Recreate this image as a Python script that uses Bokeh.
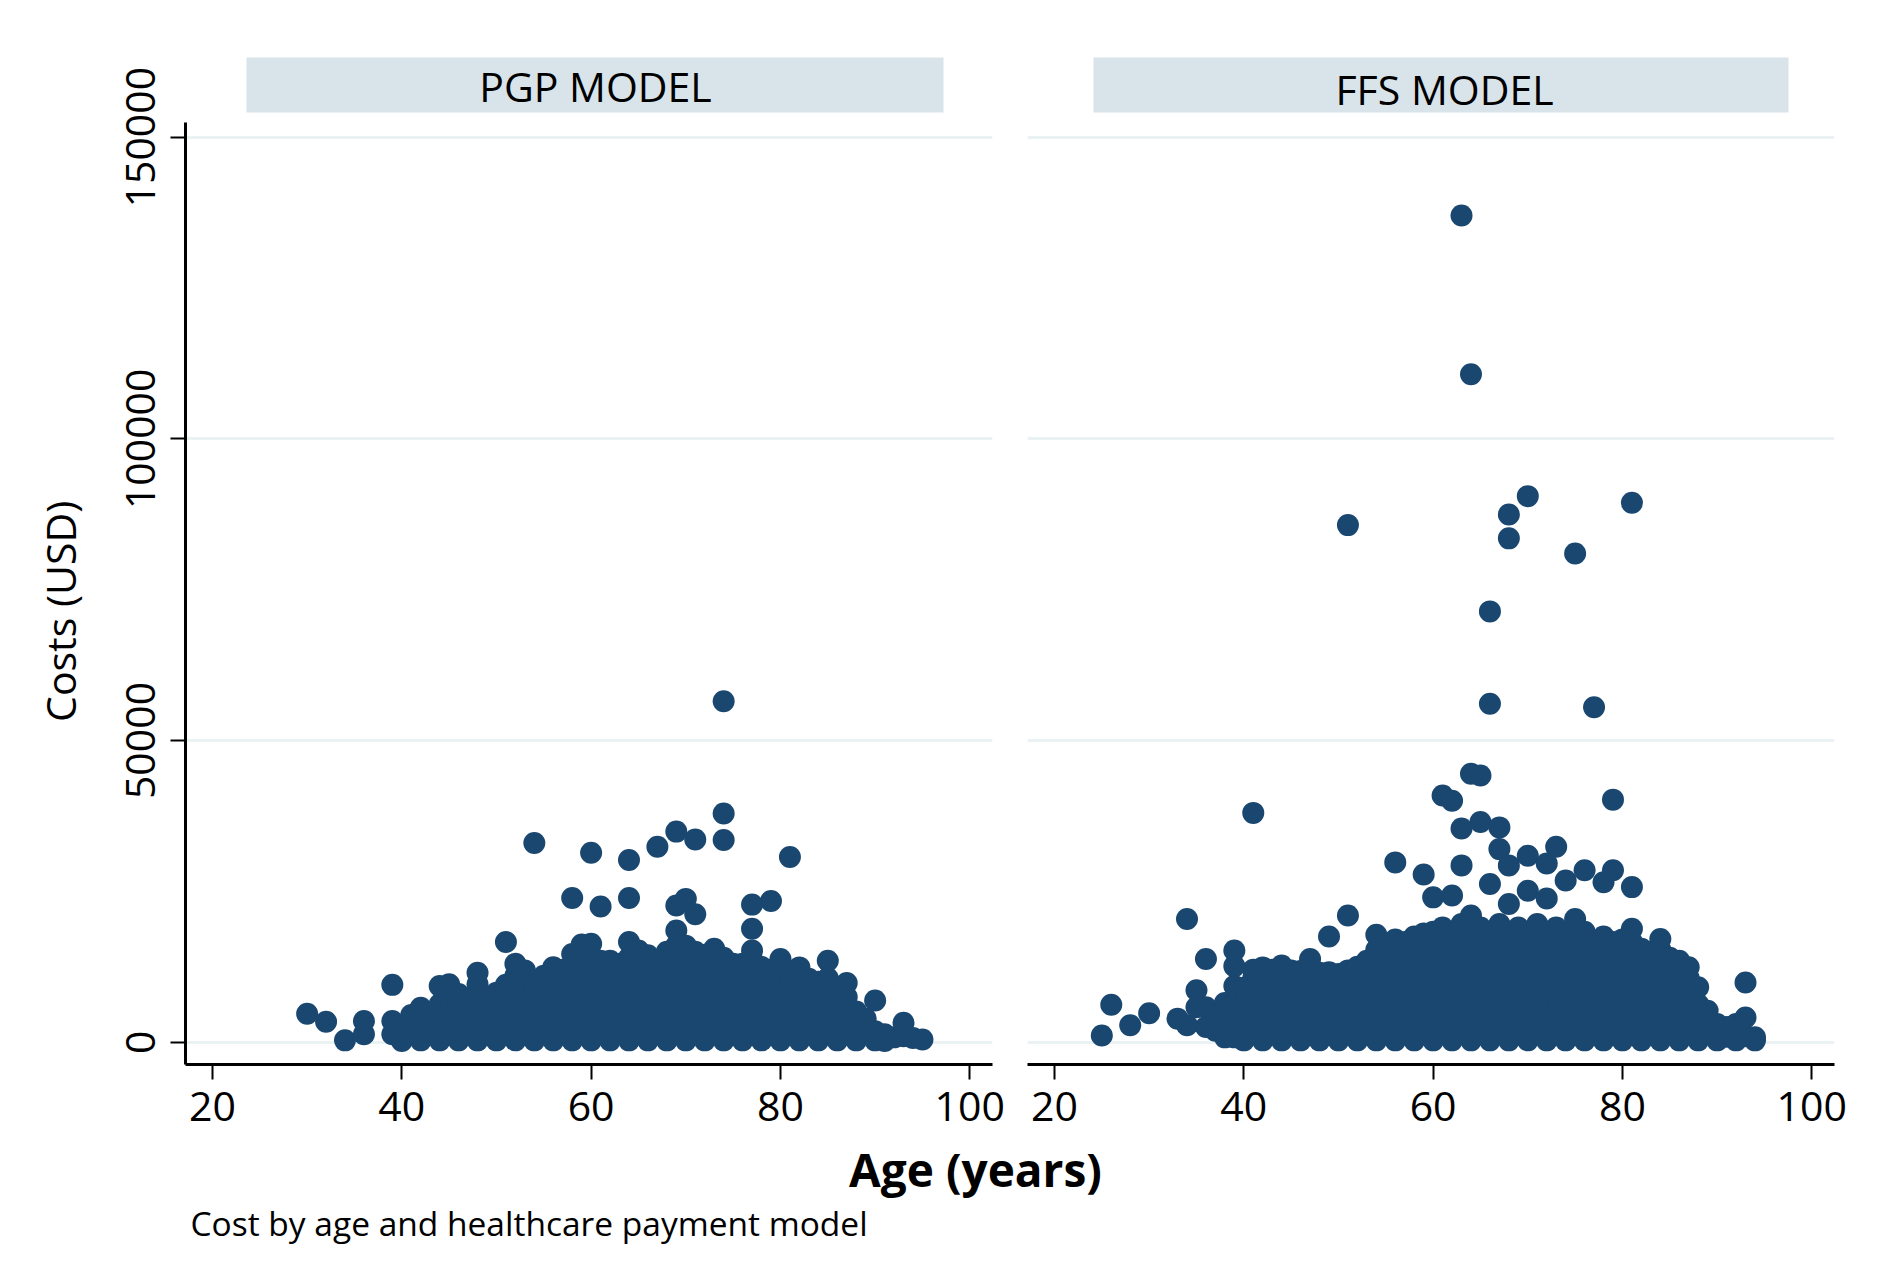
import math

from bokeh.plotting import figure
from bokeh.layouts import row, column
from bokeh.models import Range1d, FixedTicker, Label, NumeralTickFormatter
from bokeh.embed import file_html
from bokeh.resources import INLINE

# --------------------------------------------------------------
# DATA (age in years, cost in USD per patient)
# --------------------------------------------------------------

panel_titles = ["PGP MODEL", "FFS MODEL"]
x_ticks = [20, 40, 60, 80, 100]
y_ticks = [0, 50000, 100000, 150000]

pgp_ages = [30, 32, 34, 36, 39, 40, 41, 42, 43, 44, 45, 46, 47, 48, 49, 50,
            51, 52, 53, 54, 55, 56, 57, 58, 59, 60, 61, 62, 63, 64, 65, 66,
            67, 68, 69, 70, 71, 72, 73, 74, 75, 76, 77, 78, 79, 80, 81, 82,
            83, 84, 85, 86, 87, 88, 89, 90, 91, 92, 93, 94, 95]
pgp_costs = [
    [4700],                                                   # 30
    [3400],                                                   # 32
    [300],                                                    # 34
    [1300, 3500],                                             # 36
    [1300, 3500, 9500],                                       # 39
    [200, 2500],                                              # 40
    [1600, 4500],                                             # 41
    [300, 3300, 5700],                                        # 42
    [1600, 4800],                                             # 43
    [300, 3300, 6300, 9300],                                  # 44
    [1600, 4600, 7600, 9600],                                 # 45
    [300, 3300, 6300, 8000],                                  # 46
    [1600, 4600, 7200],                                       # 47
    [300, 3300, 6300, 9600, 11500],                           # 48
    [1600, 4600, 7400],                                       # 49
    [300, 3300, 6300, 8200],                                  # 50
    [1600, 4600, 7600, 9500, 16600],                          # 51
    [300, 3300, 6300, 9300, 11000, 13000],                    # 52
    [1600, 4600, 7600, 10600, 11900],                         # 53
    [300, 3300, 6300, 9300, 10000, 33000],                    # 54
    [1600, 4600, 7600, 10600, 11000],                         # 55
    [300, 3300, 6300, 9300, 12400],                           # 56
    [1600, 4600, 7600, 10600, 12000],                         # 57
    [300, 3300, 6300, 9300, 12300, 14600, 23900],             # 58
    [1600, 4600, 7600, 10600, 13500, 16200],                  # 59
    [300, 3300, 6300, 9300, 12300, 14000, 16300, 31400],      # 60
    [1600, 4600, 7600, 10600, 13500, 22500],                  # 61
    [300, 3300, 6300, 9300, 12300, 13500],                    # 62
    [1600, 4600, 7600, 10600, 13000],                         # 63
    [300, 3300, 6300, 9300, 12300, 14000, 16600, 23900, 30200],  # 64
    [1600, 4600, 7600, 10600, 13600, 15200],                  # 65
    [300, 3300, 6300, 9300, 12300, 14400],                    # 66
    [1600, 4600, 7600, 10600, 13600, 32400],                  # 67
    [300, 3300, 6300, 9300, 12300, 15000],                    # 68
    [1600, 4600, 7600, 10600, 13600, 16000, 18500, 22650, 34900],  # 69
    [300, 3300, 6300, 9300, 12300, 15300, 16000, 23750],      # 70
    [1600, 4600, 7600, 10600, 13600, 15000, 21200, 33600],    # 71
    [300, 3300, 6300, 9300, 12300, 14500],                    # 72
    [1600, 4600, 7600, 10600, 13600, 15500],                  # 73
    [300, 3300, 6300, 9300, 12300, 14000, 33500, 37900, 56500],  # 74
    [1600, 4600, 7600, 10600, 13000],                         # 75
    [300, 3300, 6300, 9300, 12300, 13000],                    # 76
    [1600, 4600, 7600, 10600, 13600, 15200, 18800, 22800],    # 77
    [300, 3300, 6300, 9300, 12300, 12500],                    # 78
    [1600, 4600, 7600, 10600, 12000, 23400],                  # 79
    [300, 3300, 6300, 9300, 12300, 13800],                    # 80
    [1600, 4600, 7600, 10600, 11000, 30700],                  # 81
    [300, 3300, 6300, 9300, 12400],                           # 82
    [1600, 4600, 7600, 10500],                                # 83
    [300, 3300, 6300, 9300, 10000],                           # 84
    [1600, 4600, 7600, 10600, 13500],                         # 85
    [300, 3300, 6300, 8500],                                  # 86
    [1600, 4600, 7500, 9800],                                 # 87
    [300, 2600, 5100],                                        # 88
    [1600, 3900],                                             # 89
    [300, 1800, 6900],                                        # 90
    [200, 1300],                                              # 91
    [800],                                                    # 92
    [1000, 3200],                                             # 93
    [700],                                                    # 94
    [440],                                                    # 95
]

ffs_ages = [25, 26, 28, 30, 33, 34, 35, 36, 37, 38, 39, 40, 41, 42, 43, 44,
            45, 46, 47, 48, 49, 50, 51, 52, 53, 54, 55, 56, 57, 58, 59, 60,
            61, 62, 63, 64, 65, 66, 67, 68, 69, 70, 71, 72, 73, 74, 75, 76,
            77, 78, 79, 80, 81, 82, 83, 84, 85, 86, 87, 88, 89, 90, 91, 92,
            93, 94]
ffs_costs = [
    [1100],                                                   # 25
    [6200],                                                   # 26
    [2800],                                                   # 28
    [4800],                                                   # 30
    [3900],                                                   # 33
    [2800, 20400],                                            # 34
    [5800, 8600],                                             # 35
    [2500, 5800, 13800],                                      # 36
    [1900, 5000],                                             # 37
    [800, 3500, 6500],                                        # 38
    [800, 3300, 6300, 9300, 12600, 15200],                    # 39
    [300, 3300, 6300, 9000],                                  # 40
    [1600, 4600, 7600, 10600, 12000, 38000],                  # 41
    [300, 3300, 6300, 9300, 12400],                           # 42
    [1600, 4600, 7600, 10600, 12000],                         # 43
    [300, 3300, 6300, 9300, 12700],                           # 44
    [1600, 4600, 7600, 10600, 11900],                         # 45
    [300, 3300, 6300, 9300, 11800],                           # 46
    [1600, 4600, 7600, 10600, 13800],                         # 47
    [300, 3300, 6300, 9300, 11500],                           # 48
    [1600, 4600, 7600, 10600, 11600, 17500],                  # 49
    [300, 3300, 6300, 9300, 11300],                           # 50
    [1600, 4600, 7600, 10600, 11900, 21000, 85700],           # 51
    [300, 3300, 6300, 9300, 12500],                           # 52
    [1600, 4600, 7600, 10600, 13500],                         # 53
    [300, 3300, 6300, 9300, 12300, 15300, 17800],             # 54
    [1600, 4600, 7600, 10600, 13600, 16000],                  # 55
    [300, 3300, 6300, 9300, 12300, 15300, 17000, 29800],      # 56
    [1600, 4600, 7600, 10600, 13600, 16600],                  # 57
    [300, 3300, 6300, 9300, 12300, 15300, 17500],             # 58
    [1600, 4600, 7600, 10600, 13600, 16600, 18000, 27800],    # 59
    [300, 3300, 6300, 9300, 12300, 15300, 18300, 24000],      # 60
    [1600, 4600, 7600, 10600, 13600, 16600, 19000, 40900],    # 61
    [300, 3300, 6300, 9300, 12300, 15300, 18300, 24300, 40000],   # 62
    [1600, 4600, 7600, 10600, 13600, 16600, 19600, 29300, 35400, 137000],  # 63
    [300, 3300, 6300, 9300, 12300, 15300, 18300, 21000, 44500, 110700],  # 64
    [1600, 4600, 7600, 10600, 13600, 16600, 19000, 36500, 44200],  # 65
    [300, 3300, 6300, 9300, 12300, 15300, 18300, 26200, 56100, 71400],  # 66
    [1600, 4600, 7600, 10600, 13600, 16600, 19600, 32000, 35600],  # 67
    [300, 3300, 6300, 9300, 12300, 15300, 18300, 22900, 29300, 83500, 87450],  # 68
    [1600, 4600, 7600, 10600, 13600, 16600, 19000],           # 69
    [300, 3300, 6300, 9300, 12300, 15300, 18300, 25100, 30900, 90500],  # 70
    [1600, 4600, 7600, 10600, 13600, 16600, 19600],           # 71
    [300, 3300, 6300, 9300, 12300, 15300, 18300, 23800, 29600],   # 72
    [1600, 4600, 7600, 10600, 13600, 16600, 19000, 32400],    # 73
    [300, 3300, 6300, 9300, 12300, 15300, 18300, 26800],      # 74
    [1600, 4600, 7600, 10600, 13600, 16600, 20400, 81000],    # 75
    [300, 3300, 6300, 9300, 12300, 15300, 18300, 28500],      # 76
    [1600, 4600, 7600, 10600, 13600, 16600, 55500],           # 77
    [300, 3300, 6300, 9300, 12300, 15300, 17500, 26500],      # 78
    [1600, 4600, 7600, 10600, 13600, 16600, 28500, 40200],    # 79
    [300, 3300, 6300, 9300, 12300, 15300, 17000],             # 80
    [1600, 4600, 7600, 10600, 13600, 16600, 18800, 25700, 89400],  # 81
    [300, 3300, 6300, 9300, 12300, 15500],                    # 82
    [1600, 4600, 7600, 10600, 13600, 15000],                  # 83
    [300, 3300, 6300, 9300, 12300, 15300, 17100],             # 84
    [1600, 4600, 7600, 10600, 13600, 14000],                  # 85
    [300, 3300, 6300, 9300, 12300, 13500],                    # 86
    [1600, 4600, 7600, 10600, 12400],                         # 87
    [300, 3300, 6300, 9100],                                  # 88
    [1600, 5200],                                             # 89
    [300, 3000],                                              # 90
    [900, 2500],                                              # 91
    [300, 3000],                                              # 92
    [1000, 4100, 9900],                                       # 93
    [300, 830],                                               # 94
]

# --------------------------------------------------------------
# STYLE / GEOMETRY (page pixels; the page has no margin)
# --------------------------------------------------------------

NAVY = "#1A476F"
STRIP = "#D8E4EA"
GRID = "#EAF2F3"
FONT = "Open Sans"

X0, X1 = 17.15, 102.4          # age range of each panel
Y0, Y1 = -3700, 163200         # cost range (top part holds the strip)
FRAME_W, FRAME_H = 807, 1007
FRAME_TOP = 57
PANEL_H = 1140
PX_X = FRAME_W / (X1 - X0)
PX_Y = FRAME_H / (Y1 - Y0)


def age_at(px, frame_left):
    return X0 + (px - frame_left) / PX_X


def cost_at(py):
    return Y1 - (py - FRAME_TOP) / PX_Y


def flatten(ages, costs):
    xs = [a for a, cs in zip(ages, costs) for _ in cs]
    ys = [c for cs in costs for c in cs]
    return xs, ys


def style_axis(ax, ticks):
    ax.ticker = FixedTicker(ticks=ticks)
    ax.axis_line_width = 3
    ax.axis_line_color = "black"
    ax.major_tick_line_width = 2
    ax.major_tick_out = 15
    ax.major_tick_in = 0
    ax.minor_tick_line_color = None
    ax.major_label_text_font = FONT
    ax.major_label_text_font_size = "41px"
    ax.major_label_text_color = "black"


def make_panel(ages, costs, name, frame_left, strip_px, title_px, width,
               border_left, border_right, show_y):
    xs, ys = flatten(ages, costs)
    p = figure(
        width=width, height=PANEL_H,
        x_range=Range1d(X0, X1), y_range=Range1d(Y0, Y1),
        title=None, toolbar_location=None, output_backend="svg",
        y_axis_location="left" if show_y else None,
        min_border_left=border_left, min_border_right=border_right,
        min_border_top=FRAME_TOP, min_border_bottom=PANEL_H - FRAME_TOP - FRAME_H,)
    p.outline_line_color = None
    p.background_fill_color = "white"
    p.border_fill_color = "white"

    p.xgrid.visible = False
    p.ygrid.ticker = FixedTicker(ticks=y_ticks)
    p.ygrid.grid_line_color = GRID
    p.ygrid.grid_line_width = 3

    # panel strip
    p.quad(left=[age_at(strip_px[0], frame_left)], right=[age_at(strip_px[1], frame_left)],
           bottom=[cost_at(112)], top=[Y1 + 2000],
           fill_color=STRIP, line_color=None)
    p.add_layout(Label(
        x=age_at(title_px[0], frame_left), y=cost_at(title_px[1]), text=name,
        text_align="center", text_baseline="alphabetic",
        text_font=FONT, text_font_size="41px", text_color="black"))

    p.scatter(xs, ys, size=22, fill_color=NAVY, line_color=None)

    style_axis(p.xaxis[0], x_ticks)
    p.xaxis.major_label_standoff = 12

    if show_y:
        ay = p.yaxis[0]
        style_axis(ay, y_ticks)
        ay.formatter = NumeralTickFormatter(format="0")
        ay.bounds = (Y0, 152450)
        ay.major_label_orientation = "vertical"
        ay.major_label_standoff = 15
    return p


# narrow band on the far left that carries the y title
p0 = figure(width=100, height=PANEL_H, x_range=Range1d(0, 100), y_range=Range1d(0, PANEL_H),
            title=None, toolbar_location=None, output_backend="svg",
            x_axis_location=None, y_axis_location=None, min_border=0)
p0.outline_line_color = None
p0.grid.visible = False
p0.add_layout(Label(x=59, y=PANEL_H - 627, text="Costs (USD)", angle=math.pi / 2,
                    text_align="center", text_baseline="middle", text_font=FONT,
                    text_font_size="41px", text_color="black"))

p1 = make_panel(pgp_ages, pgp_costs, panel_titles[0], 185, (246, 943), (595, 85),
                width=910, border_left=85, border_right=18, show_y=True)
p2 = make_panel(ffs_ages, ffs_costs, panel_titles[1], 1027, (1093, 1788), (1444, 88.5),
                width=880, border_left=17, border_right=56, show_y=False)

# bottom band: common x title and caption (coordinates = pixels of this band);
# it is pulled up a little over the empty bottom edge of the panels
BOTTOM_H = 146
p3 = figure(width=1890, height=BOTTOM_H, x_range=Range1d(0, 1890), y_range=Range1d(0, BOTTOM_H),
            title=None, toolbar_location=None, output_backend="svg",
            x_axis_location=None, y_axis_location=None, min_border=0)
p3.margin = (-10, 0, 0, 0)
p3.outline_line_color = None
p3.grid.visible = False
p3.add_layout(Label(x=975, y=139, text="Age (years)", text_align="center",
                    text_baseline="top", text_font=FONT, text_font_style="bold",
                    text_font_size="46px", text_color="black"))
p3.add_layout(Label(x=190, y=77, text="Cost by age and healthcare payment model",
                    text_align="left", text_baseline="top", text_font=FONT,
                    text_font_size="33.5px", text_color="black"))

layout = column(row(p0, p1, p2), p3)
open("out.html", "w").write(file_html(layout, INLINE))
print("out.html written")
